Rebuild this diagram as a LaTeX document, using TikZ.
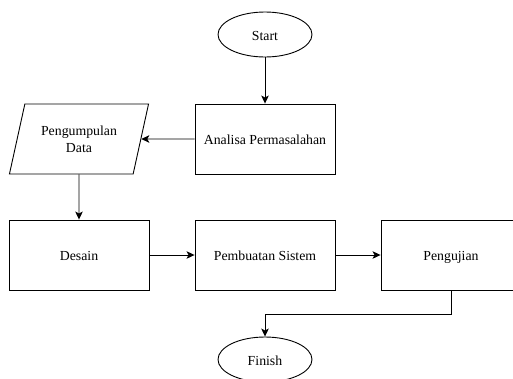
\documentclass[tikz,border=0pt]{standalone}
\usepackage{fontspec}
\setmainfont{Liberation Serif}
\newfontfamily\tnrfont{Liberation Serif}
\usetikzlibrary{shapes.geometric,arrows.meta}
\begin{document}
\begin{tikzpicture}[x=1pt,y=-1pt,
  txt/.style={font=\tnrfont\fontsize{13.8}{17}\selectfont,text height=12.5pt,text depth=1pt},
  box/.style={draw,txt,line width=0.9pt,minimum width=140pt,minimum height=70pt,inner sep=0pt,align=center},
  term/.style={draw,txt,ellipse,line width=0.9pt,minimum width=94pt,minimum height=45pt,inner sep=0pt},
  io/.style={draw,trapezium,trapezium left angle=68,trapezium right angle=112,line width=0.9pt,minimum width=140pt,minimum height=70pt,inner sep=0pt,trapezium stretches=true,font=\tnrfont\fontsize{13.8}{17}\selectfont,align=center},
  arr/.style={draw,line width=0.9pt,-{Stealth[length=8pt,width=7.5pt,inset=2pt]}}]
\useasboundingbox (0,0) rectangle (513,378);
\fill[white] (0,0) rectangle (513,378);
\begin{scope}
\clip (0,0) rectangle (513,378);
\node[term] (start) at (265,34.5) {Start};
\node[box] (analisa) at (265,139) {Analisa Permasalahan};
\node[io] (kumpul) at (79,139) {Pengumpulan\\Data};
\node[box] (desain) at (79,255) {Desain};
\node[box] (buat) at (265,255) {Pembuatan Sistem};
\node[box] (uji) at (451,255) {Pengujian};
\node[term] (finish) at (265,359.5) {Finish};
\coordinate (c1) at (451,314);
\coordinate (c2) at (265,314);
\draw[arr] (start) -- (analisa);
\draw[arr] (analisa) -- (kumpul);
\draw[arr] (kumpul) -- (desain);
\draw[arr] (desain) -- (buat);
\draw[arr] (buat) -- (uji);
\draw[arr] (uji.south) -- (c1) -- (c2) -- (finish.north);
\end{scope}
\end{tikzpicture}
\end{document}
